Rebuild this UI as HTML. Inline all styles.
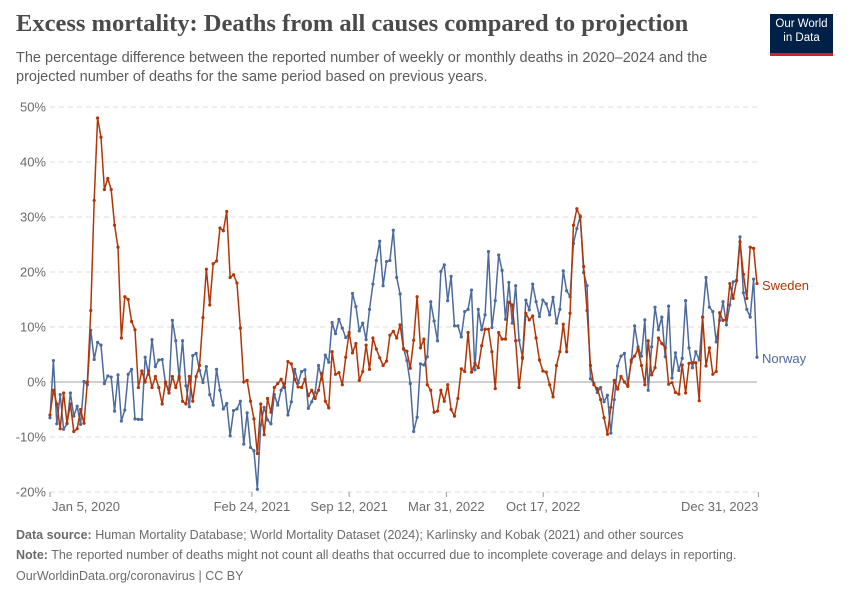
<!DOCTYPE html>
<html><head><meta charset="utf-8"><style>
body{margin:0;background:#fff;width:850px;height:600px;overflow:hidden;font-family:"Liberation Sans",sans-serif;}
.t{position:absolute;left:16px;top:10px;font-family:"Liberation Serif",serif;font-weight:bold;font-size:24.5px;color:#4a4a4a;}
.s{position:absolute;left:16px;top:49px;font-size:14.5px;line-height:19px;color:#5b5b5b;width:740px;}
.f{position:absolute;left:16px;font-size:12.5px;color:#6b6b6b;}
.logo{position:absolute;left:770px;top:14px;width:63px;height:36px;background:#002147;border-bottom:3px solid #ce261e;color:#fff;font-size:11.5px;line-height:14px;text-align:center;padding-top:3px;box-sizing:content-box;}
</style></head><body>
<div class="t">Excess mortality: Deaths from all causes compared to projection</div>
<div class="s">The percentage difference between the reported number of weekly or monthly deaths in 2020–2024 and the projected number of deaths for the same period based on previous years.</div>
<div class="logo">Our World<br>in Data</div>
<svg id="c" width="850" height="600" style="position:absolute;left:0;top:0"></svg>
<div class="f" style="top:528px"><b>Data source:</b> Human Mortality Database; World Mortality Dataset (2024); Karlinsky and Kobak (2021) and other sources</div>
<div class="f" style="top:548px"><b>Note:</b> The reported number of deaths might not count all deaths that occurred due to incomplete coverage and delays in reporting.</div>
<div class="f" style="top:569px">OurWorldinData.org/coronavirus | CC BY</div>
<script>
const yTicks=[-20,-10,0,10,20,30,40,50];
const xTickWeeks=[0,59.4,88,116.6,145.1,208.4];
const xTickLabels=["Jan 5, 2020","Feb 24, 2021","Sep 12, 2021","Mar 31, 2022","Oct 17, 2022","Dec 31, 2023"];
const sweden=[-6,-1.5,-4,-8.5,-2,-7.5,-4,-9,-8.5,-5,-7.5,0,13,33,48,44.5,35,37,35,28.5,24.5,8,15.5,15,11,9.5,-1,2,0,2,-1,1,-1,-4,0,
-2,1,-1,1,-3.5,-4,1,-3.5,1,3,11.7,20.5,14,21.5,22,28,27.5,31,19,19.5,18,9.8,0,0.3,-3.5,-6.7,-13,-4,-9.6,-3,-5.5,-1,-0.3,0.5,-1,3.7,3.3,0.5,
-0.9,-1,0.5,-2.5,-1.5,-3,-1.5,1.6,-3.5,-4.7,5.5,1.4,1.7,-0.5,4.5,9,5.3,7,0.3,1.9,6.7,2.3,8,6,4.4,3,3.8,8.5,9.2,8,10.4,6,5.6,2.5,7.6,15.5,
6.2,7.8,-0.5,-1.5,-5.5,-5.3,-1.5,-3.5,-0.5,-5,-6.2,-3,2.4,1.9,9,1.8,3.4,2.6,6.6,9.6,9.6,5.5,-1.2,9,7.8,7.8,14.5,14,7.5,-1,4.3,12.5,11.3,12,8,4,2,
1.8,-0.5,-2.7,3,5.5,10.5,5.5,12.5,28.5,31.5,30,21,13,3,-0.5,-1.2,-3.2,-6.5,-9.5,-4.6,0.3,-1.3,1,0,-0.8,4,4.7,6,3,-0.5,7.5,1.3,2.6,8,7,
6.2,-0.4,-0.1,-1.9,-2.2,3.1,-2,3.4,3.5,3.5,-3.4,11.8,2.9,6.2,1.4,1.9,12.6,11.2,11.4,17.9,15.2,18.4,25.5,19.6,15.2,24.5,24.3,17.9];
const norway=[-6.5,3.9,-7.6,-2.3,-8.6,-7.6,-2,-6.2,-4.4,-7.7,0.1,-0.5,9.4,4.1,7.2,6.7,-0.3,1.1,0.9,-5.3,1.3,-7.1,-5.1,1.4,2.3,-6.7,-6.8,-6.8,4.5,1.4,7.7,2.8,4,4.1,-0.3,-1.5,
11.2,7.5,0.7,7.5,-0.7,-4.5,4.8,5.2,2.1,-0.1,2.8,-2.3,-4.2,2.3,-1.5,-4.9,-3.9,-9.8,-5.2,-4.9,-3.5,-11.3,-5.6,-11.9,-12.5,-19.5,-7.8,-4.6,-6.9,-7.6,-2.3,-4.2,-1.5,-0.2,-6,-3.6,2.3,
-0.2,1.9,2.2,-4.8,-3.6,-1.9,3,0.5,4.9,3.6,10.8,8.8,11.4,9.8,8.1,8.7,16.1,13.7,9.3,10.7,7.7,13.2,17.8,22.1,25.6,17.5,21.9,22.1,27.6,19,16,6.1,3.9,-0.3,-9,-6.4,
3.3,3.1,4.6,14.6,11.1,7.5,20.1,21.3,14.8,19.2,10.2,10.2,8.2,12.8,13.2,16.7,2.2,13.2,9.5,12.2,23.7,9.9,14.8,23.1,20.3,11.4,18.1,10.7,17.5,7.6,4.5,14.9,13.1,17.8,14.6,11.9,14.9,
14.2,12.2,15.4,10.7,13.2,20.2,16.6,15.5,25.2,27.9,30.2,19.9,17.5,0.6,-0.2,-1.9,-1,-3.6,-2.4,-9.3,-3.2,2.9,4.7,5.2,-0.5,3.6,10.2,6.4,4.7,11.3,-1.5,6.4,13.6,9.5,11.8,
4.6,13.8,0.7,5.3,2.1,4.3,14.8,6.2,2.6,5.5,4,11.8,19,13.6,12.8,7.3,11.2,14.6,10.4,14,18.2,18.5,26.4,16.2,13.2,11.8,18.7,4.5];
const NS='http://www.w3.org/2000/svg',svg=document.getElementById('c');
const X0=50,X1=757,N=208;
const xs=i=>X0+(X1-X0)*i/N, ys=v=>382-v*5.5;
function mk(t,a,p){const e=document.createElementNS(NS,t);for(const k in a)e.setAttribute(k,a[k]);(p||svg).appendChild(e);return e;}
yTicks.forEach(v=>{
  const l=mk('line',{x1:X0,x2:X1,y1:ys(v),y2:ys(v),stroke:v===0?'#a0a0a0':'#dddddd','stroke-width':1,'stroke-dasharray':v===0?'none':'5,4'});
  
  
  const t=mk('text',{x:46,y:ys(v)+4.5,'text-anchor':'end','font-size':13,fill:'#6b6b6b','font-family':'Liberation Sans'});
  t.textContent=v+'%';
  
  
});
xTickWeeks.forEach((w,i)=>{
  const x=xs(w);
  const tk=mk('line',{x1:x,x2:x,y1:492,y2:497,stroke:'#999'});
  
  
  const anchor=i===0?'start':(i===xTickWeeks.length-1?'end':'middle');
  const t=mk('text',{x:i===0?x+2:x,y:511,'text-anchor':anchor,'font-size':13,fill:'#6b6b6b','font-family':'Liberation Sans'});
  t.textContent=xTickLabels[i];
  
  
});
function series(arr,col,name){
  const g=mk('g',{});
  
  
  mk('polyline',{points:arr.map((v,i)=>xs(i)+','+ys(v)).join(' '),fill:'none',stroke:col,'stroke-width':1.5,'stroke-linejoin':'round'},g);
  arr.forEach((v,i)=>{const c=mk('circle',{cx:xs(i),cy:ys(v),r:1.6,fill:col},g);
    
    });
}
series(norway,'#4c6a9c','norway');
series(sweden,'#b13507','sweden');
const l1=mk('text',{x:762,y:290,'font-size':13,fill:'#b13507','font-family':'Liberation Sans'});l1.textContent='Sweden';


const l2=mk('text',{x:762,y:363,'font-size':13,fill:'#4c6a9c','font-family':'Liberation Sans'});l2.textContent='Norway';


</script>
</body></html>
